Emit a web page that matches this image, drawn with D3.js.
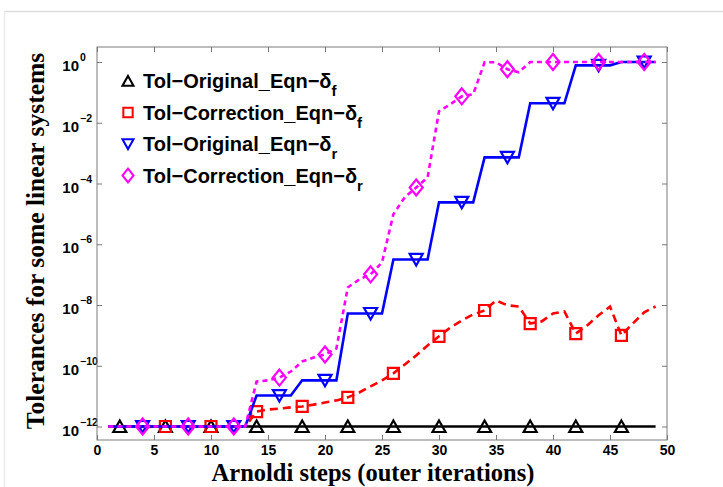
<!DOCTYPE html>
<html>
<head>
<meta charset="utf-8">
<script src="https://cdn.jsdelivr.net/npm/d3@7"></script>
<style>
  html, body { margin: 0; padding: 0; background: #fff; }
  svg { display: block; }
</style>
</head>
<body>
<div id="chart"></div>
<script>
// arnoldi steps (outer iterations)
var steps = [1,2,3,4,5,6,7,8,9,10,11,12,13,14,15,16,17,18,19,20,21,22,23,24,25,
             26,27,28,29,30,31,32,33,34,35,36,37,38,39,40,41,42,43,44,45,46,47,48,49];

// log10 of the tolerance at each step
var origF = [-12,-12,-12,-12,-12,-12,-12,-12,-12,-12,-12,-12,-12,-12,-12,-12,-12,-12,-12,-12,-12,-12,-12,-12,-12,
             -12,-12,-12,-12,-12,-12,-12,-12,-12,-12,-12,-12,-12,-12,-12,-12,-12,-12,-12,-12,-12,-12,-12,-12];
var corrF = [-12,-12,-12,-12,-12,-12,-12,-12,-12,-12,-12,-12,-12,
             -11.51,-11.44,-11.41,-11.37,-11.34,-11.28,-11.21,-11.14,-11.04,-10.88,-10.68,-10.48,
             -10.25,-9.96,-9.66,-9.33,-9.03,-8.74,-8.51,-8.31,-8.18,-7.85,-8.01,-8.05,
             -8.61,-8.54,-8.28,-8.21,-8.94,-8.67,-8.34,-8.05,-9.00,-8.61,-8.24,-8.05];
var origR = [-12,-12,-12,-12,-12,-12,-12,-12,-12,-12,-12,-12,-12,
             -10.98,-10.98,-10.98,-10.98,-10.48,-10.48,-10.48,-10.48,-8.28,-8.28,-8.28,-8.28,
             -6.50,-6.50,-6.50,-6.50,-4.62,-4.62,-4.62,-4.62,-3.14,-3.14,-3.14,-3.14,
             -1.36,-1.36,-1.36,-1.36,-0.11,-0.11,-0.11,-0.11,0,0,0,0];
var corrR = [-12,-12,-12,-12,-12,-12,-12,-12,-12,-12,-12,-12,-12,
             -10.52,-10.48,-10.39,-10.19,-9.86,-9.73,-9.63,-9.43,-7.42,-7.16,-6.99,-6.60,
             -5.01,-4.45,-4.13,-3.80,-1.62,-1.39,-1.13,-1.06,-0.01,-0.01,-0.24,-0.34,
             0,0,0,0,0,0,0,0,0,0,0,0];

// where the markers sit
var marksF = [2,6,10,14,18,22,26,30,34,38,42,46];
var marksCF = [6,10,14,18,22,26,30,34,38,42,46];
var marksR = [4,8,12,16,20,24,28,32,36,40,44,48];

var xTicks = [0,5,10,15,20,25,30,35,40,45,50];
var yTickExp = [0,-2,-4,-6,-8,-10,-12];

var names = ["Tol\u2212Original_Eqn\u2212\u03b4", "Tol\u2212Correction_Eqn\u2212\u03b4",
             "Tol\u2212Original_Eqn\u2212\u03b4", "Tol\u2212Correction_Eqn\u2212\u03b4"];
var subs = ["f", "f", "r", "r"];

var W = 723, H = 487;
var margin = {top: 47, right: 56, bottom: 47, left: 97};
var width = W - margin.left - margin.right,
    height = H - margin.top - margin.bottom;

var svg = d3.select("#chart").append("svg")
  .attr("width", W).attr("height", H);

// light frame around the figure
svg.append("line").attr("x1", 4).attr("x2", W).attr("y1", 11.5).attr("y2", 11.5)
  .attr("stroke", "#dcdcdc").attr("stroke-width", 1.5);
svg.append("line").attr("x1", 4.5).attr("x2", 4.5).attr("y1", 11).attr("y2", H)
  .attr("stroke", "#ececec").attr("stroke-width", 1.5);

var g = svg.append("g").attr("transform", "translate(" + margin.left + "," + margin.top + ")");

var x = d3.scaleLinear().domain([0, 50]).range([0, width]);
var y = d3.scaleLog().domain([Math.pow(10, -12.444), Math.pow(10, 0.494)]).range([height, 0]);

var axisColor = "#7a7a7a";
var tickFont = "bold 14px 'Liberation Sans', Arial, sans-serif";

// axes: ticks point inwards, top and right copies without labels
var xb = g.append("g").attr("transform", "translate(0," + height + ")")
  .call(d3.axisBottom(x).tickValues(xTicks).tickSizeInner(-5).tickSizeOuter(0).tickPadding(5));
var xt = g.append("g")
  .call(d3.axisTop(x).tickValues(xTicks).tickSizeInner(-5).tickSizeOuter(0).tickFormat(""));
var yl = g.append("g")
  .call(d3.axisLeft(y).tickValues(yTickExp.map(function(e) { return Math.pow(10, e); }))
    .tickSizeInner(-5).tickSizeOuter(0).tickFormat(""));
var yr = g.append("g").attr("transform", "translate(" + width + ",0)")
  .call(d3.axisRight(y).tickValues(yTickExp.map(function(e) { return Math.pow(10, e); }))
    .tickSizeInner(-5).tickSizeOuter(0).tickFormat(""));

[xb, xt, yl, yr].forEach(function(a) {
  a.select(".domain").remove();
  a.selectAll(".tick line").attr("stroke", axisColor);
});
xb.selectAll(".tick text").style("font", tickFont).attr("fill", "#000");

// 10^n labels
yTickExp.forEach(function(e) {
  var t = g.append("text")
    .attr("x", -18).attr("y", y(Math.pow(10, e)) + 9)
    .style("font", "bold 15px 'Liberation Sans', Arial, sans-serif")
    .attr("fill", "#000");
  t.append("tspan").attr("text-anchor", "end").text("10");
  g.append("text")
    .attr("x", -17).attr("y", y(Math.pow(10, e)) - 1)
    .style("font", "bold 10.5px 'Liberation Sans', Arial, sans-serif")
    .attr("fill", "#000")
    .text(e === 0 ? "0" : "\u2212" + (-e));
});

g.append("rect").attr("width", width).attr("height", height)
  .attr("fill", "none").attr("stroke", axisColor).attr("stroke-width", 1);

// marker shapes
function triUp(d) { return "M0,-6L6.5,5.5L-6.5,5.5Z"; }
function triDown(d) { return "M-6.5,-5.5L6.5,-5.5L0,6Z"; }
function square(d) { return "M-5.5,-5.5H5.5V5.5H-5.5Z"; }
function diamond(d) { return "M0,-8L6.5,0L0,8L-6.5,0Z"; }

var series = [
  {vals: origF, marks: marksF, color: "#000000", dash: null, shape: triUp},
  {vals: corrF, marks: marksCF, color: "#ff0000", dash: "8,5", shape: square},
  {vals: origR, marks: marksR, color: "#0000ff", dash: null, shape: triDown},
  {vals: corrR, marks: marksR, color: "#ff00ff", dash: "5,4", shape: diamond}
];

var line = d3.line()
  .x(function(d) { return x(d[0]); })
  .y(function(d) { return y(Math.pow(10, d[1])); });

series.forEach(function(s) {
  var pts = steps.map(function(st, i) { return [st, s.vals[i]]; });
  g.append("path").datum(pts)
    .attr("d", line)
    .attr("fill", "none")
    .attr("stroke", s.color)
    .attr("stroke-width", 2.6)
    .attr("stroke-dasharray", s.dash);
  g.selectAll(null).data(s.marks).enter()
    .append("path")
    .attr("transform", function(m) {
      return "translate(" + x(m) + "," + y(Math.pow(10, s.vals[steps.indexOf(m)])) + ")";
    })
    .attr("d", s.shape)
    .attr("fill", "none")
    .attr("stroke", s.color)
    .attr("stroke-width", 2.2);
});

// legend, markers only
var leg = svg.append("g");
series.forEach(function(s, i) {
  var cy = 81 + i * 31.5;
  leg.append("path")
    .attr("transform", "translate(128," + cy + ") scale(0.85)")
    .attr("d", s.shape)
    .attr("fill", "none").attr("stroke", s.color).attr("stroke-width", 2.4);
  var t = leg.append("text")
    .attr("x", 143).attr("y", cy + 7)
    .style("font", "bold 20px 'Liberation Sans', Arial, sans-serif")
    .attr("fill", "#000");
  t.append("tspan").text(names[i]);
  t.append("tspan").attr("dy", 8).style("font-size", "15px").text(subs[i]);
});

// axis titles
svg.append("text")
  .attr("x", 373).attr("y", 481)
  .attr("text-anchor", "middle")
  .style("font", "bold 24.5px 'Liberation Serif', 'Times New Roman', serif")
  .text("Arnoldi steps (outer iterations)");
svg.append("text")
  .attr("transform", "translate(44," + 241 + ") rotate(-90)")
  .attr("text-anchor", "middle")
  .style("font", "bold 25.5px 'Liberation Serif', 'Times New Roman', serif")
  .text("Tolerances for some linear systems");
</script>
</body>
</html>
